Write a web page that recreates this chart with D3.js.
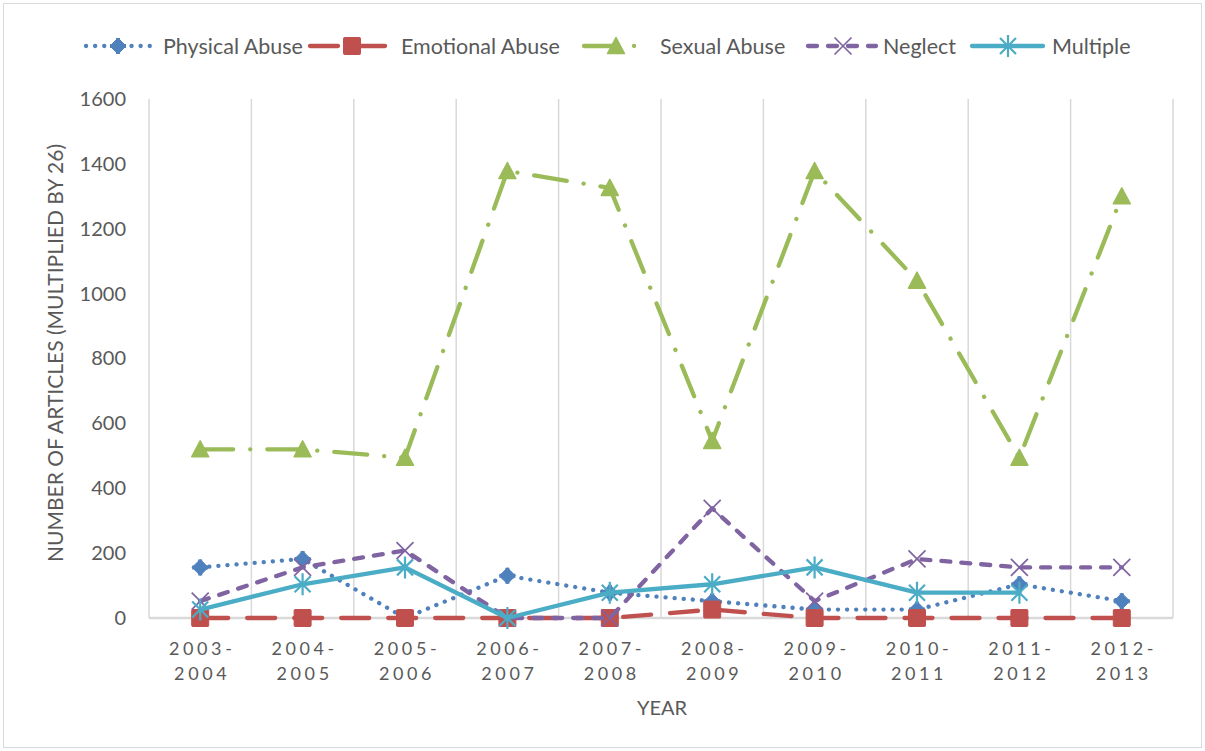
<!DOCTYPE html>
<html>
<head>
<meta charset="utf-8">
<script src="https://cdn.jsdelivr.net/npm/d3@7"></script>
<style>
  html, body { margin: 0; padding: 0; background: #fff; }
  svg text { font-family: Lato, "Open Sans", sans-serif; fill: #595959; }
</style>
</head>
<body>
<svg id="chart" width="1205" height="751"></svg>
<script>
// Academic years on the x axis (two-line labels)
const years = ["2003-2004", "2004-2005", "2005-2006", "2006-2007", "2007-2008",
               "2008-2009", "2009-2010", "2010-2011", "2011-2012", "2012-2013"];

// Article counts (multiplied by 26) per category
const physicalAbuse  = [156, 182, 0, 130, 78, 52, 26, 26, 104, 52];
const emotionalAbuse = [0, 0, 0, 0, 0, 26, 0, 0, 0, 0];
const sexualAbuse    = [520, 520, 494, 1378, 1326, 546, 1378, 1040, 494, 1300];
const neglect        = [52, 156, 208, 0, 0, 338, 52, 182, 156, 156];
const multiple       = [26, 104, 156, 0, 78, 104, 156, 78, 78, null];

const yTicks = [0, 200, 400, 600, 800, 1000, 1200, 1400, 1600];

const series = [
  { name: "Physical Abuse",  values: physicalAbuse,  color: "#4F81BD", dash: "0.1 9",          marker: "diamond" },
  { name: "Emotional Abuse", values: emotionalAbuse, color: "#C0504D", dash: "28 19",          marker: "square" },
  { name: "Sexual Abuse",    values: sexualAbuse,    color: "#9BBB59", dash: "33 17 0.1 17",   marker: "triangle" },
  { name: "Neglect",         values: neglect,        color: "#8064A2", dash: "9 11",           marker: "x" },
  { name: "Multiple",        values: multiple,       color: "#4BACC6", dash: null,             marker: "star" }
];

const LW = 4.3;
const svg = d3.select("#chart");
const margin = { left: 149, right: 1173, top: 99, bottom: 618 };

// outer frame
svg.append("rect").attr("x", 3.5).attr("y", 3.5).attr("width", 1198).attr("height", 744)
  .attr("fill", "none").attr("stroke", "#d9d9d9").attr("stroke-width", 1);

const x = d3.scaleBand().domain(years).range([margin.left, margin.right]).paddingInner(0).paddingOuter(0);
const y = d3.scaleLinear().domain([0, 1600]).range([margin.bottom, margin.top]);
const cx = d => x(d) + x.bandwidth() / 2;

// vertical gridlines at category boundaries
const bounds = years.map(d => x(d)).concat([margin.right]);
svg.append("g").selectAll("line").data(bounds).join("line")
  .attr("x1", d => d).attr("x2", d => d)
  .attr("y1", margin.top).attr("y2", margin.bottom)
  .attr("stroke", "#d9d9d9").attr("stroke-width", 1.5);

// horizontal base axis
svg.append("line").attr("x1", margin.left).attr("x2", margin.right)
  .attr("y1", y(0)).attr("y2", y(0)).attr("stroke", "#d9d9d9").attr("stroke-width", 2.5);

// y axis tick labels
const yAxis = d3.axisLeft(y).tickValues(yTicks).tickSize(0).tickPadding(0).tickFormat(d3.format("d"));
const gy = svg.append("g").attr("transform", `translate(${margin.left - 23},0)`).call(yAxis);
gy.select(".domain").remove();
gy.selectAll("text").attr("font-size", 20).attr("fill", "#595959")
  .style("font-family", "Lato, 'Open Sans', sans-serif");

// x axis tick labels (two lines, letter spaced)
const xAxis = d3.axisBottom(x).tickSize(0).tickFormat("");
const gx = svg.append("g").attr("transform", `translate(0,${margin.bottom})`).call(xAxis);
gx.select(".domain").remove();
gx.selectAll(".tick").each(function (d) {
  const parts = d.split("-");
  const t = d3.select(this).append("text")
    .attr("text-anchor", "middle").attr("font-size", 18)
    .attr("letter-spacing", "3.6px").attr("fill", "#595959")
    .style("font-family", "Lato, 'Open Sans', sans-serif");
  t.append("tspan").attr("x", 2).attr("y", 37).text(parts[0] + "-");
  t.append("tspan").attr("x", 2).attr("y", 62).text(parts[1]);
});

// axis titles
svg.append("text").attr("x", 662).attr("y", 715).attr("text-anchor", "middle")
  .attr("font-size", 20).text("YEAR");
svg.append("text").attr("transform", "translate(63,353) rotate(-90)")
  .attr("text-anchor", "middle").attr("font-size", 21)
  .text("NUMBER OF ARTICLES (MULTIPLIED BY 26)");

// marker drawing
function drawMarker(g, type, color) {
  if (type === "diamond") {
    g.append("path").attr("d", "M0,-8L8,0L0,8L-8,0Z")
      .attr("fill", color).attr("stroke", color).attr("stroke-width", 1).attr("stroke-linejoin", "round");
    g.append("path").attr("d", "M-8,0H8M0,-8V8").attr("stroke", color).attr("stroke-width", 4);
  } else if (type === "square") {
    g.append("rect").attr("x", -8.5).attr("y", -8.5).attr("width", 17).attr("height", 17)
      .attr("fill", color).attr("stroke", color).attr("stroke-width", 1).attr("rx", 1);
  } else if (type === "triangle") {
    g.append("path").attr("d", "M0,-8.5L8.5,7.5L-8.5,7.5Z").attr("fill", color)
      .attr("stroke", color).attr("stroke-width", 1.5).attr("stroke-linejoin", "round");
  } else if (type === "x") {
    g.append("path").attr("d", "M-8.5,-8.5L8.5,8.5M-8.5,8.5L8.5,-8.5").attr("stroke", color)
      .attr("stroke-width", 1.7).attr("fill", "none");
  } else if (type === "star") {
    g.append("path").attr("d", "M-8,-8L8,8M-8,8L8,-8M0,-11V11").attr("stroke", color)
      .attr("stroke-width", 2.2).attr("fill", "none");
  }
}

const line = d3.line()
  .defined(d => d.v !== null)
  .x(d => cx(d.year)).y(d => y(d.v));

// series lines and markers
series.forEach(s => {
  const pts = s.values.map((v, i) => ({ year: years[i], v }));
  svg.append("path").datum(pts)
    .attr("d", line).attr("fill", "none")
    .attr("stroke", s.color).attr("stroke-width", LW)
    .attr("stroke-linecap", "round").attr("stroke-linejoin", "round")
    .attr("stroke-dasharray", s.dash);
  pts.filter(p => p.v !== null).forEach(p => {
    const g = svg.append("g").attr("transform", `translate(${cx(p.year)},${y(p.v)})`);
    drawMarker(g, s.marker, s.color);
  });
});

// legend
const legendItems = [
  { s: series[0], x1: 86,  x2: 150, mx: 118, tx: 163 },
  { s: series[1], x1: 310, x2: 393, mx: 352, tx: 401 },
  { s: series[2], x1: 584, x2: 642, mx: 616, tx: 660 },
  { s: series[3], x1: 808, x2: 876, mx: 843, tx: 883 },
  { s: series[4], x1: 972, x2: 1043, mx: 1008, tx: 1052 }
];
const lg = svg.append("g");
legendItems.forEach(it => {
  const ly = 46;
  lg.append("line").attr("x1", it.x1).attr("x2", it.x2).attr("y1", ly).attr("y2", ly)
    .attr("stroke", it.s.color).attr("stroke-width", LW)
    .attr("stroke-linecap", "round").attr("stroke-dasharray", it.s.dash);
  const g = lg.append("g").attr("transform", `translate(${it.mx},${ly})`);
  drawMarker(g, it.s.marker, it.s.color);
  lg.append("text").attr("x", it.tx).attr("y", ly).attr("dy", "0.36em")
    .attr("font-size", 21.5).text(it.s.name);
});
</script>
</body>
</html>
